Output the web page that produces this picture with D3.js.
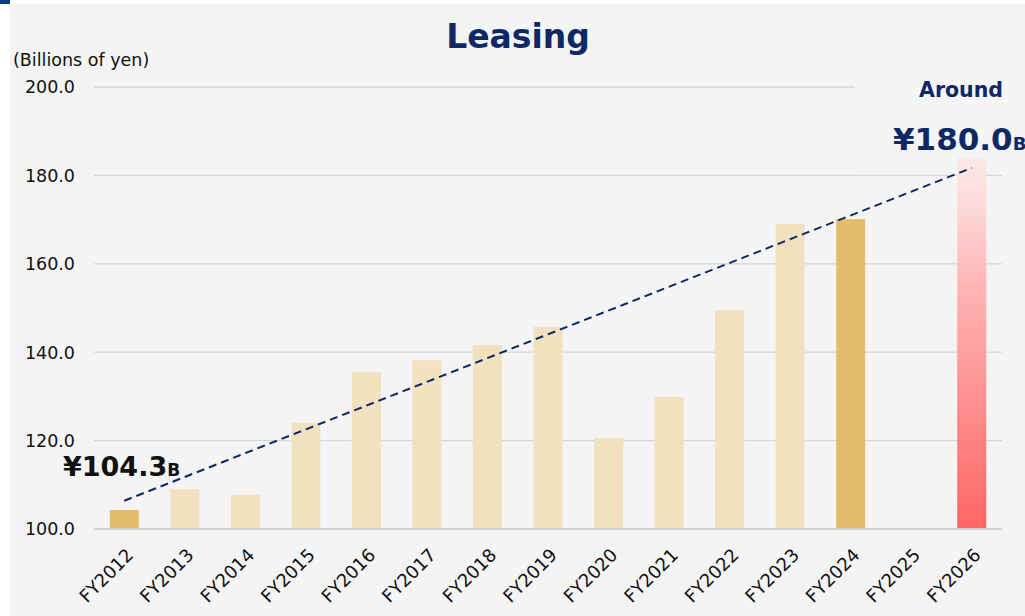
<!DOCTYPE html>
<html><head><meta charset="utf-8">
<script src="https://cdn.jsdelivr.net/npm/d3@7"></script>
<style>html,body{margin:0;padding:0;background:#fff;}svg{display:block;}</style>
</head><body>
<script>
const categories = ["FY2012","FY2013","FY2014","FY2015","FY2016","FY2017","FY2018","FY2019","FY2020","FY2021","FY2022","FY2023","FY2024","FY2025","FY2026"];
const values = [104.3,109.0,107.7,124.0,135.5,138.2,141.6,145.7,120.6,129.9,149.5,169.0,170.1,null,184.0];
const barKind = ["key","past","past","past","past","past","past","past","past","past","past","past","key","none","target"];
const yTicks = [100,120,140,160,180,200];
const trend = [{cat:"FY2012", v:106.4},{cat:"FY2026", v:181.7}];
const title = "Leasing";
const unitLabel = "(Billions of yen)";

const W=1025,H=616;
const svg=d3.select("body").append("svg").attr("width",W).attr("height",H);
const font="DejaVu Sans, Verdana, sans-serif";
const navy="#0c2866";

svg.append("rect").attr("x",10).attr("y",4).attr("width",W-10).attr("height",H-4).attr("fill","#f4f4f4");
svg.append("rect").attr("x",0).attr("y",0).attr("width",10).attr("height",4).attr("fill","#0d3b8e");

const defs=svg.append("defs");
const g=defs.append("linearGradient").attr("id","redgrad").attr("x1",0).attr("y1",0).attr("x2",0).attr("y2",1);
g.append("stop").attr("offset","0%").attr("stop-color","#fce8e8");
g.append("stop").attr("offset","15%").attr("stop-color","#fdd6d6");
g.append("stop").attr("offset","35%").attr("stop-color","#ffb4b4");
g.append("stop").attr("offset","100%").attr("stop-color","#ff6666");

const x=d3.scaleBand().domain(categories).range([94,1002]).paddingInner(0.52).paddingOuter(0.26);
const y=d3.scaleLinear().domain([100,200]).range([529,87]);

// gridlines
svg.append("g").selectAll("line").data(yTicks.filter(t=>t!==100)).join("line")
  .attr("x1",94).attr("x2",1002).attr("y1",d=>y(d)).attr("y2",d=>y(d))
  .attr("stroke","#d6d6d6").attr("stroke-width",1.3);

// label box behind target annotation
svg.append("rect").attr("x",855).attr("y",62).attr("width",170).attr("height",108).attr("fill","#f5f5f5");

// y tick labels
svg.append("g").selectAll("text").data(yTicks).join("text")
  .attr("x",75).attr("y",d=>y(d)).attr("dy","0.36em").attr("text-anchor","end")
  .attr("font-family",font).attr("font-size",17.5).attr("fill","#111")
  .text(d=>d3.format(".1f")(d));

svg.append("text").attr("x",13).attr("y",66).attr("font-family",font).attr("font-size",17.5)
  .attr("fill","#111").text(unitLabel);

// bars
const colorOf={key:"#e3bb6b",past:"#f2e1bf",target:"url(#redgrad)"};
svg.append("g").selectAll("rect").data(categories.map((c,i)=>({c,v:values[i],k:barKind[i]})).filter(d=>d.v!=null))
  .join("rect").attr("x",d=>x(d.c)).attr("width",x.bandwidth())
  .attr("y",d=>y(d.v)).attr("height",d=>y(100)-y(d.v)).attr("fill",d=>colorOf[d.k]);

// baseline
svg.append("line").attr("x1",94).attr("x2",1002).attr("y1",y(100)).attr("y2",y(100))
  .attr("stroke","#d2d2d2").attr("stroke-width",2);

// x labels
svg.append("g").selectAll("text").data(categories).join("text")
  .attr("transform",d=>`translate(${x(d)+x.bandwidth()/2+1},${547}) rotate(-45)`)
  .attr("text-anchor","end").attr("dy","0.72em")
  .attr("font-family",font).attr("font-size",18).attr("fill","#111").text(d=>d);

// trend line
const line=d3.line().x(d=>x(d.cat)+x.bandwidth()/2).y(d=>y(d.v));
svg.append("path").attr("d",line(trend)).attr("fill","none").attr("stroke",navy)
  .attr("stroke-width",2).attr("stroke-dasharray","8,5");

// title
svg.append("text").attr("x",518).attr("y",48).attr("text-anchor","middle")
  .attr("font-family",font).attr("font-weight","bold").attr("font-size",33).attr("fill",navy).text(title);

// start annotation
const a1=svg.append("text").attr("x",63).attr("y",476).attr("font-family",font).attr("font-weight","bold").attr("fill","#111");
a1.append("tspan").attr("font-size",27).text("¥"+d3.format(".1f")(values[0]));
a1.append("tspan").attr("font-size",17).text("B");

// target annotation
svg.append("text").attr("x",961).attr("y",97).attr("text-anchor","middle").attr("font-family",font)
  .attr("font-weight","bold").attr("font-size",20.5).attr("fill",navy).text("Around");
const a2=svg.append("text").attr("x",893).attr("y",150).attr("font-family",font).attr("font-weight","bold").attr("fill",navy);
a2.append("tspan").attr("font-size",31).text("¥180.0");
a2.append("tspan").attr("font-size",18).text("B");
</script>
</body></html>
